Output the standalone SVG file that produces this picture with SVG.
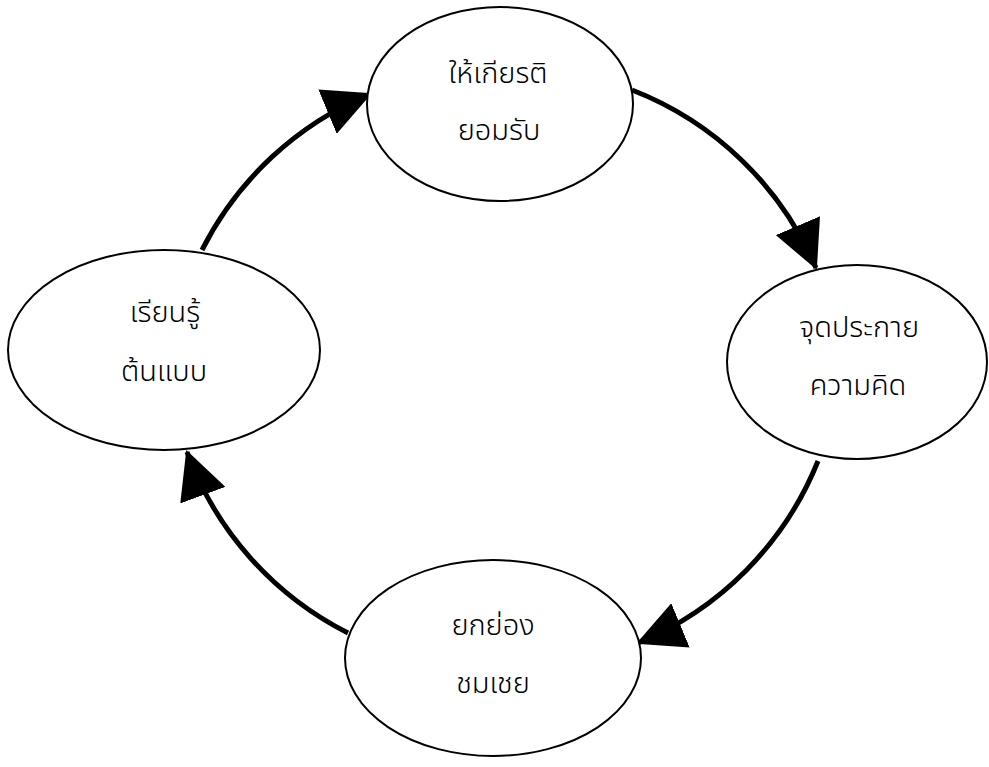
<svg xmlns="http://www.w3.org/2000/svg" width="989" height="767" viewBox="0 0 989 767">
<style>
.node ellipse{fill:#fff;stroke:#000;stroke-width:2}
.node text{font-family:"Noto Sans Thai","Noto Sans","DejaVu Sans",sans-serif;font-size:29px;font-weight:300;fill:#000;text-anchor:middle}
.conn path{fill:none;stroke:#000;stroke-width:5;marker-end:url(#arr)}
</style>
<defs>
<marker id="arr" markerUnits="userSpaceOnUse" markerWidth="48" markerHeight="48" viewBox="0 0 48 48" refX="46" refY="24" orient="auto">
<path d="M0,0 L48,24 L0,48 z" fill="#000"/>
</marker>
</defs>
<rect width="989" height="767" fill="#fff"/>
<g class="conn" id="connectors">
<path d="M202,250 A330,330 0 0 1 370,94"/>
<path d="M632,90 A330,330 0 0 1 816,268"/>
<path d="M818,461 A330,330 0 0 1 638,643"/>
<path d="M348,633 A330,330 0 0 1 187,452"/>
</g>
<g class="node" id="n-top">
<ellipse cx="500" cy="104" rx="133" ry="97"/>
<text x="498" y="83">ให้เกียรติ</text>
<text x="499" y="140">ยอมรับ</text>
</g>
<g class="node" id="n-right">
<ellipse cx="857" cy="362" rx="130" ry="97"/>
<text x="859" y="337">จุดประกาย</text>
<text x="858" y="395">ความคิด</text>
</g>
<g class="node" id="n-bottom">
<ellipse cx="493" cy="658" rx="148" ry="98"/>
<text x="493" y="635">ยกย่อง</text>
<text x="493" y="693">ชมเชย</text>
</g>
<g class="node" id="n-left">
<ellipse cx="164" cy="350" rx="156" ry="100"/>
<text x="165" y="322">เรียนรู้</text>
<text x="164" y="381">ต้นแบบ</text>
</g>
</svg>
